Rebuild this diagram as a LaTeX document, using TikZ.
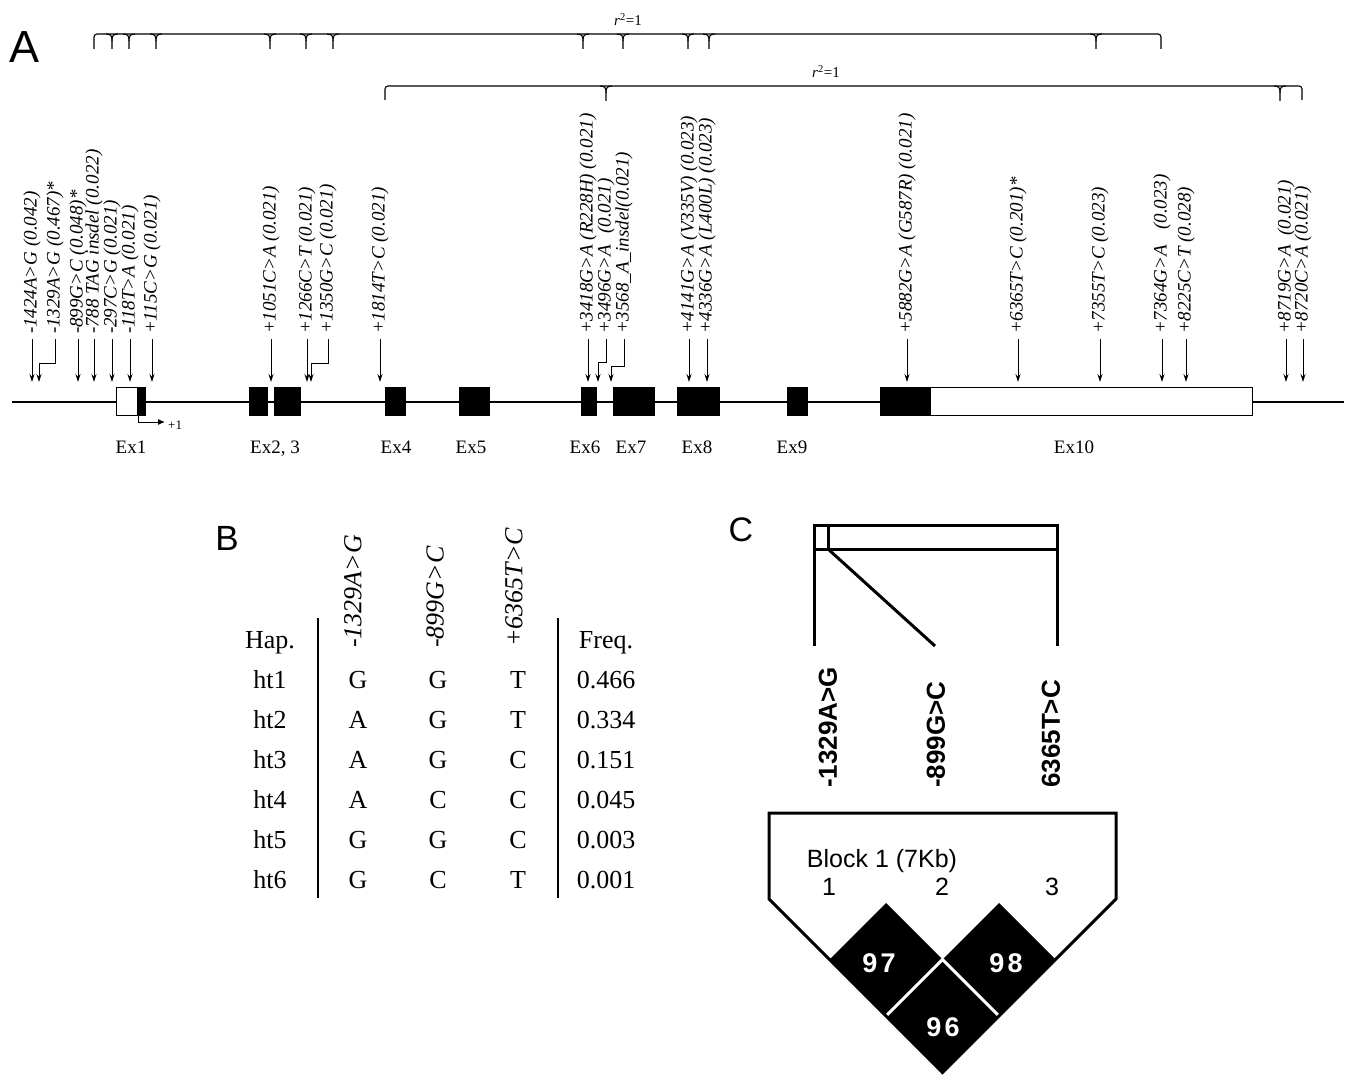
\documentclass[tikz,border=0pt]{standalone}
\usepackage{fontspec}
\setmainfont{Liberation Serif}
\setsansfont{Liberation Sans}
\usepackage{tikz}
\usetikzlibrary{arrows.meta}
\newcommand{\fsz}[1]{\fontsize{#1}{#1}\selectfont}
% one cusp of an r^2 bracket
\newcommand{\ldtick}[2]{%
  \draw[bracket] (#1-6,#2) .. controls (#1-1,#2) and (#1,#2+2) .. (#1,#2+7) -- (#1,#2+15);
  \draw[bracket] (#1+6,#2) .. controls (#1+1,#2) and (#1,#2+2) .. (#1,#2+7);}

\begin{document}
\begin{tikzpicture}[x=1pt, y=-1pt,
  snp/.style={-{Stealth[length=8pt,width=5pt]}, line width=0.9pt},
  snplab/.style={rotate=90, anchor=west, inner sep=0pt, outer xsep=5pt, font=\fsz{19}\itshape},
  exon/.style={draw, line width=0.9pt, fill=black},
  utr/.style={draw, line width=0.9pt, fill=white},
  exlab/.style={anchor=base, inner sep=0pt, font=\fsz{19}},
  bracket/.style={line width=1.1pt},
  panel/.style={anchor=base, inner sep=0pt, font=\sffamily\fsz{45}},
  tab/.style={anchor=base, inner sep=0pt, font=\fsz{26}},
  hdr/.style={rotate=90, anchor=west, inner sep=0pt, font=\fsz{26}\itshape},
  ldlab/.style={rotate=90, anchor=west, inner sep=0pt, font=\sffamily\bfseries\fsz{26}},
  ldtxt/.style={anchor=base, inner sep=0pt, font=\sffamily\fsz{25}},
  ldnum/.style={anchor=base, inner sep=0pt, text=white, font=\sffamily\bfseries\fsz{27}},
  heavy/.style={line width=3pt},
]
\useasboundingbox (0,0) rectangle (1347,1075);

% ---------------- A: gene structure ----------------
\node[panel] (pa) at (25,63) {A};

\draw[bracket, rounded corners=3pt] (94,49) -- (94,34) -- (1161,34) -- (1161,49);
\ldtick{112}{34} \ldtick{129}{34} \ldtick{156}{34} \ldtick{270}{34}
\ldtick{306}{34} \ldtick{333}{34} \ldtick{583}{34} \ldtick{623}{34}
\ldtick{688}{34} \ldtick{709}{34} \ldtick{1096}{34}
\node[anchor=base, font=\fsz{15}] (r1) at (628,26) {\textit{r}\textsuperscript{2}=1};

\draw[bracket, rounded corners=3pt] (385,100) -- (385,86) -- (1302,86) -- (1302,100);
\ldtick{606}{86} \ldtick{1280}{86}
\node[anchor=base, font=\fsz{15}] (r2) at (826,78) {\textit{r}\textsuperscript{2}=1};

% gene line and exons
\draw[line width=2.4pt] (12,402) -- (1344,402);
\draw[utr] (116,387) rectangle (137.5,415);
\draw[exon] (137.5,387) rectangle (145,415);
\draw[exon] (249,387) rectangle (267,415);
\draw[exon] (274.5,387) rectangle (300,415);
\draw[exon] (385,387) rectangle (405,415);
\draw[exon] (459,387) rectangle (489,415);
\draw[exon] (581,387) rectangle (596,415);
\draw[exon] (613,387) rectangle (654,415);
\draw[exon] (677,387) rectangle (719,415);
\draw[exon] (787,387) rectangle (807,415);
\draw[exon] (880,387) rectangle (930,415);
\draw[utr] (930,387) rectangle (1252,415);

\draw[line width=1pt, -{Latex[length=7pt,width=6pt]}] (138,415) -- (138,422) -- (165,422);
\node[anchor=west, inner sep=0pt, font=\fsz{13}] (tss) at (168,425) {+1};

\node[exlab] (e1) at (131,453) {Ex1};
\node[exlab] (e23) at (275,453) {Ex2, 3};
\node[exlab] (e4) at (396,453) {Ex4};
\node[exlab] (e5) at (471,453) {Ex5};
\node[exlab] (e6) at (585,453) {Ex6};
\node[exlab] (e7) at (631,453) {Ex7};
\node[exlab] (e8) at (697,453) {Ex8};
\node[exlab] (e9) at (792,453) {Ex9};
\node[exlab] (e10) at (1074,453) {Ex10};

% SNP labels
\coordinate (tip) at (0,382);
\node[snplab] (s1) at (32,339) {-1424A>G (0.042)};
\node[snplab] (s2) at (55,339) {-1329A>G (0.467)*};
\node[snplab] (s3) at (78,339) {-899G>C (0.048)*};
\node[snplab] (s4) at (94,339) {-788 TAG insdel (0.022)};
\node[snplab] (s5) at (112,339) {-297C>G (0.021)};
\node[snplab] (s6) at (130,339) {-118T>A (0.021)};
\node[snplab] (s7) at (152,339) {+115C>G (0.021)};
\node[snplab] (s8) at (271,339) {+1051C>A (0.021)};
\node[snplab] (s9) at (307,339) {+1266C>T (0.021)};
\node[snplab] (s10) at (328,339) {+1350G>C (0.021)};
\node[snplab] (s11) at (380,339) {+1814T>C (0.021)};
\node[snplab] (s12) at (588,339) {+3418G>A (R228H) (0.021)};
\node[snplab] (s13) at (606,339) {+3496G>A\hspace{.6em}(0.021)};
\node[snplab] (s14) at (624,339) {+3568\_A\_insdel(0.021)};
\node[snplab] (s15) at (689,339) {+4141G>A (V335V) (0.023)};
\node[snplab] (s16) at (707,339) {+4336G>A (L400L) (0.023)};
\node[snplab] (s17) at (907,339) {+5882G>A (G587R) (0.021)};
\node[snplab] (s18) at (1018,339) {+6365T>C (0.201)*};
\node[snplab] (s19) at (1100,339) {+7355T>C (0.023)};
\node[snplab] (s20) at (1162,339) {+7364G>A\hspace{.8em}(0.023)};
\node[snplab] (s21) at (1186,339) {+8225C>T (0.028)};
\node[snplab] (s22) at (1286,339) {+8719G>A\hspace{.5em}(0.021)};
\node[snplab] (s23) at (1303,339) {+8720C>A (0.021)};

\draw[snp] (s1.west) -- (s1.west |- tip);
\draw[snp] (s2.west) |- (39,363) -- (39,382);
\draw[snp] (s3.west) -- (s3.west |- tip);
\draw[snp] (s4.west) -- (s4.west |- tip);
\draw[snp] (s5.west) -- (s5.west |- tip);
\draw[snp] (s6.west) -- (s6.west |- tip);
\draw[snp] (s7.west) -- (s7.west |- tip);
\draw[snp] (s8.west) -- (s8.west |- tip);
\draw[snp] (s9.west) -- (s9.west |- tip);
\draw[snp] (s10.west) |- (311,363) -- (311,382);
\draw[snp] (s11.west) -- (s11.west |- tip);
\draw[snp] (s12.west) -- (s12.west |- tip);
\draw[snp] (s13.west) |- (598,362) -- (598,382);
\draw[snp] (s14.west) |- (611,366) -- (611,382);
\draw[snp] (s15.west) -- (s15.west |- tip);
\draw[snp] (s16.west) -- (s16.west |- tip);
\draw[snp] (s17.west) -- (s17.west |- tip);
\draw[snp] (s18.west) -- (s18.west |- tip);
\draw[snp] (s19.west) -- (s19.west |- tip);
\draw[snp] (s20.west) -- (s20.west |- tip);
\draw[snp] (s21.west) -- (s21.west |- tip);
\draw[snp] (s22.west) -- (s22.west |- tip);
\draw[snp] (s23.west) -- (s23.west |- tip);

% ---------------- B: haplotypes ----------------
\node[panel, font=\sffamily\fsz{35}] (pb) at (227,550) {B};
\node[tab] (hap) at (270,648) {Hap.};
\node[hdr] (h1) at (353,648) {-1329A>G};
\node[hdr] (h2) at (435,648) {-899G>C};
\node[hdr] (h3) at (514,647) {+6365T>C};
\node[tab] (freq) at (606,648) {Freq.};
\draw[line width=1.6pt] (318,618) -- (318,898);
\draw[line width=1.6pt] (558,618) -- (558,898);

\node[tab] (ht1) at (270,688) {ht1}; \node[tab] (ht1a) at (358,688) {G};
\node[tab] (ht1b) at (438,688) {G}; \node[tab] (ht1c) at (518,688) {T};
\node[tab] (ht1f) at (606,688) {0.466};
\node[tab] (ht2) at (270,728) {ht2}; \node[tab] (ht2a) at (358,728) {A};
\node[tab] (ht2b) at (438,728) {G}; \node[tab] (ht2c) at (518,728) {T};
\node[tab] (ht2f) at (606,728) {0.334};
\node[tab] (ht3) at (270,768) {ht3}; \node[tab] (ht3a) at (358,768) {A};
\node[tab] (ht3b) at (438,768) {G}; \node[tab] (ht3c) at (518,768) {C};
\node[tab] (ht3f) at (606,768) {0.151};
\node[tab] (ht4) at (270,808) {ht4}; \node[tab] (ht4a) at (358,808) {A};
\node[tab] (ht4b) at (438,808) {C}; \node[tab] (ht4c) at (518,808) {C};
\node[tab] (ht4f) at (606,808) {0.045};
\node[tab] (ht5) at (270,848) {ht5}; \node[tab] (ht5a) at (358,848) {G};
\node[tab] (ht5b) at (438,848) {G}; \node[tab] (ht5c) at (518,848) {C};
\node[tab] (ht5f) at (606,848) {0.003};
\node[tab] (ht6) at (270,888) {ht6}; \node[tab] (ht6a) at (358,888) {G};
\node[tab] (ht6b) at (438,888) {C}; \node[tab] (ht6c) at (518,888) {T};
\node[tab] (ht6f) at (606,888) {0.001};

% ---------------- C: LD block ----------------
\node[panel, font=\sffamily\fsz{34}] (pc) at (741,541) {C};
\draw[heavy] (814,525) rectangle (1057,549);
\draw[heavy] (828,525) -- (828,549);
\draw[heavy] (814,549) -- (814,646);
\draw[heavy] (828,549) -- (935,646);
\draw[heavy] (1057,549) -- (1057,646);
\node[ldlab] (c1) at (828,788) {-1329A>G};
\node[ldlab] (c2) at (936,788) {-899G>C};
\node[ldlab] (c3) at (1051,788) {6365T>C};

\fill (829.5,959.5) -- (886,903) -- (942.5,959.5) -- (886,1016) -- cycle;
\fill (942.5,959.5) -- (999,903) -- (1055.5,959.5) -- (999,1016) -- cycle;
\fill (886,1016) -- (942.5,959.5) -- (999,1016) -- (942.5,1072.5) -- cycle;
\draw[white, line width=3pt] (886,1016) -- (942.5,959.5) -- (999,1016);
\draw[heavy, line join=miter] (769,813) -- (1116,813) -- (1116,899) -- (942.5,1072.5) -- (769,899) -- cycle;

\node[ldtxt] (blk) at (882,867) {Block 1 (7Kb)};
\node[ldtxt] (m1) at (829,895) {1};
\node[ldtxt] (m2) at (942,895) {2};
\node[ldtxt] (m3) at (1052,895) {3};
\node[ldnum] (d12) at (879,972) {9\hspace{3pt}7};
\node[ldnum] (d23) at (1006,972) {9\hspace{3pt}8};
\node[ldnum] (d13) at (943,1036) {9\hspace{3pt}6};
\end{tikzpicture}
\end{document}
